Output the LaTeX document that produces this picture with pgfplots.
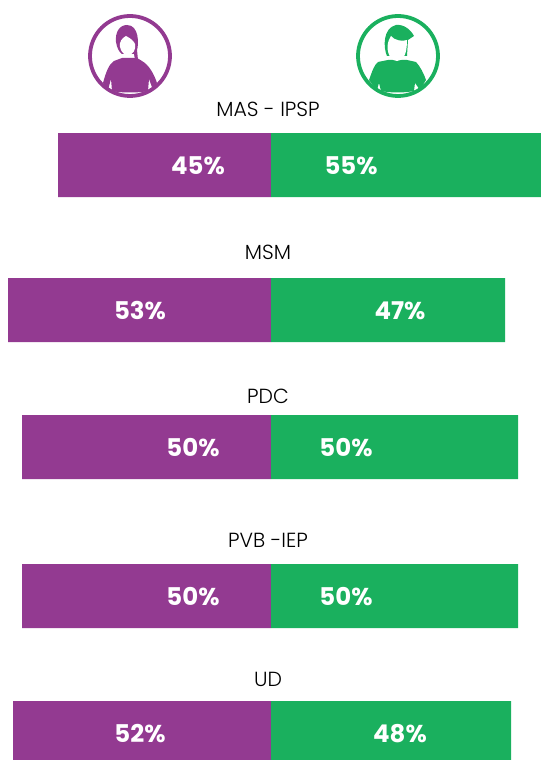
\documentclass[border=0pt]{standalone}
\usepackage{pgfplots}
\pgfplotsset{compat=1.18}
\usepackage{fontspec}
\setmainfont{Poppins}
\newfontfamily\lightf{Poppins Light}
\definecolor{pur}{HTML}{933A91}
\definecolor{grn}{HTML}{1AB05E}
\tikzset{pct/.style={white,font=\bfseries\fontsize{24.5}{25}\selectfont},ttl/.style={black,font=\lightf\fontsize{20.5}{21}\selectfont}}
\begin{document}
\begin{tikzpicture}
\useasboundingbox (0,0) rectangle (541bp,760bp);
\begin{axis}[
  at={(0,0)},anchor=south west,
  scale only axis,width=541bp,height=760bp,
  xmin=-54.2,xmax=54,ymin=0,ymax=760,
  y dir=reverse,hide axis,
  xbar,bar width=64,bar shift=0pt,
  clip=true
]
\addplot[fill=pur,draw=none] coordinates {(-42.6,165) (-52.6,310) (-49.8,447) (-49.8,596) (-51.6,733)};
\addplot[fill=grn,draw=none] coordinates {(54,165) (46.8,310) (49.4,447) (49.4,596) (48,733)};
\node[pct] at (axis cs:-14.6,166) {45\%};
\node[pct] at (axis cs:16,166) {55\%};
\node[pct] at (axis cs:-26.2,311) {53\%};
\node[pct] at (axis cs:25.8,311) {47\%};
\node[pct] at (axis cs:-15.6,448) {50\%};
\node[pct] at (axis cs:15,448) {50\%};
\node[pct] at (axis cs:-15.6,597) {50\%};
\node[pct] at (axis cs:15,597) {50\%};
\node[pct] at (axis cs:-26.2,734) {52\%};
\node[pct] at (axis cs:25.8,734) {48\%};
\node[ttl] at (axis cs:-0.6,109) {MAS - IPSP};
\node[ttl] at (axis cs:-0.6,252) {MSM};
\node[ttl] at (axis cs:-0.6,396) {PDC};
\node[ttl] at (axis cs:-0.6,540) {PVB -IEP};
\node[ttl] at (axis cs:-0.6,679) {UD};
\end{axis}
\begin{scope}[shift={(0,760bp)},x=1bp,y=-1bp]
  % woman
  \draw[pur,line width=3.8bp] (130,56) circle [radius=40];
  \fill[pur] (103,83) .. controls (106,72) and (109,64) .. (114,61) -- (122,58) -- (137,58) -- (142,61) .. controls (149,65) and (154,74) .. (157,83) -- (153,90) -- (149,79) -- (148,91) .. controls (140,93) and (120,93) .. (112,91) -- (111,79) -- (108,90) -- cycle;
  \fill[pur] (127,25) .. controls (119,25) and (115,33) .. (116,42) .. controls (117,48) and (119,52) .. (122,54) -- (134,54) -- (135,60) -- (138,60) -- (137,50) .. controls (139,44) and (139,25) .. (127,25) -- cycle;
  \fill[white] (126,36) .. controls (122,38) and (119,42) .. (120,47) .. controls (122,54) and (125,55) .. (128,55) .. controls (133,55) and (136,50) .. (135,44) .. controls (134,41) and (130,38) .. (126,36) -- cycle;
  % man
  \draw[grn,line width=3.8bp] (398,56) circle [radius=40];
  \fill[grn] (369,80) .. controls (372,72) and (374,65) .. (378,62) -- (388,60) -- (407,60) -- (416,62) .. controls (420,66) and (424,74) .. (426,80) -- (420,90) -- (415,83) -- (414,91) .. controls (405,93) and (390,93) .. (381,91) -- (379,83) -- (377,90) -- cycle;
  \fill[grn] (387,56) .. controls (383,47) and (383,28) .. (396,25) .. controls (404,24) and (411,30) .. (414,36) -- (408,40) -- (407,56) -- cycle;
  \fill[white] (387.5,46) .. controls (387.5,56) and (392,61) .. (397,61) .. controls (403,61) and (407,55) .. (407,40) .. controls (402,42) and (394,40) .. (391,36) .. controls (389,39) and (388,42) .. (387.5,46) -- cycle;
\end{scope}
\end{tikzpicture}
\end{document}
